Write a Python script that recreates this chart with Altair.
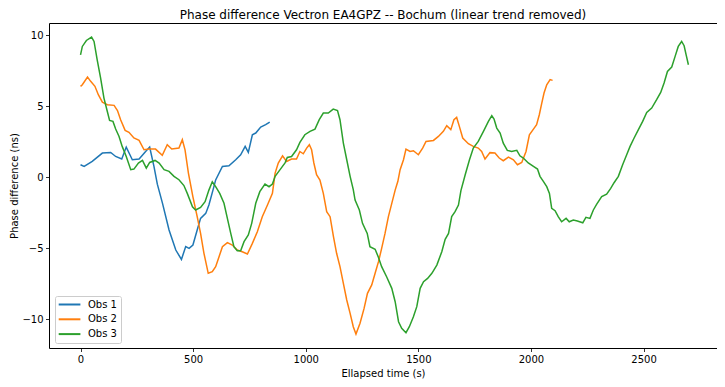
import altair as alt
import pandas as pd

# ---- data ----
obs1_t = [0, 16, 52, 97, 134, 156, 183, 203, 230, 260, 289, 307, 326, 341, 364, 393, 423,
          448, 467, 482, 499, 518, 533, 556, 570, 588, 600, 630, 659, 689, 711, 731, 745,
          763, 778, 800, 822, 840]
obs1_v = [0.87, 0.75, 1.1, 1.69, 1.73, 1.45, 1.27, 2.11, 1.22, 1.27, 1.8, 2.11, 0.75, -0.5,
          -1.85, -3.73, -5.14, -5.8, -4.9, -5.02, -4.79, -3.73, -2.91, -2.56, -1.97, -0.92,
          -0.2, 0.75, 0.8, 1.22, 1.57, 2.16, 1.74, 2.98, 3.1, 3.52, 3.69, 3.87]

obs2_t = [0, 8, 31, 45, 64, 79, 97, 119, 149, 164, 178, 198, 215, 237, 260, 282, 304, 333,
          363, 385, 405, 437, 452, 464, 479, 499, 518, 533, 548, 567, 585, 600, 615, 630,
          652, 674, 696, 718, 741, 763, 785, 807, 830, 852, 864, 878, 897, 915, 937, 959,
          974, 989, 1004, 1016, 1026, 1036, 1048, 1063, 1078, 1093, 1108, 1123, 1137, 1152,
          1167, 1182, 1197, 1211, 1223, 1241, 1259, 1274, 1293, 1308, 1323, 1337, 1352,
          1367, 1382, 1397, 1409, 1419, 1434, 1445, 1463, 1478, 1500, 1519, 1534, 1567,
          1589, 1611, 1626, 1644, 1658, 1670, 1682, 1697, 1722, 1744, 1766, 1781, 1796,
          1818, 1840, 1859, 1877, 1900, 1922, 1940, 1959, 1978, 1993, 2011, 2025, 2037,
          2048, 2058, 2070, 2085, 2096]
obs2_v = [6.39, 6.5, 7.04, 6.74, 6.39, 5.8, 5.28, 5.09, 5.05, 4.69, 4.04, 3.29, 3.15, 2.75,
          2.58, 1.92, 1.97, 1.97, 1.53, 2.28, 1.97, 2.04, 2.63, 1.92, 0.28, -1.39, -2.79,
          -3.97, -5.37, -6.78, -6.67, -6.31, -5.61, -4.91, -4.62, -4.79, -5.14, -5.26,
          -5.42, -4.67, -3.85, -2.79, -1.97, -1.15, 0.28, 0.99, 1.5, 1.1, 1.27, 1.27, 1.8,
          1.64, 2.04, 2.28, 1.92, 0.99, 0.16, -0.21, -1.15, -2.44, -2.79, -4.2, -5.37,
          -6.31, -7.49, -8.66, -9.6, -10.54, -11.06, -10.3, -9.25, -8.19, -7.6, -6.78,
          -5.96, -5.02, -3.97, -2.79, -1.85, -0.92, -0.3, 0.52, 1.22, 1.97, 1.8, 1.85,
          1.57, 2.04, 2.51, 2.58, 2.86, 3.22, 3.62, 3.34, 4.04, 4.2, 3.57, 2.75, 2.35,
          2.16, 2.04, 1.8, 1.27, 1.72, 1.69, 1.34, 1.15, 1.41, 1.22, 0.87, 1.03, 1.8,
          2.98, 3.38, 3.69, 4.39, 5.21, 5.92, 6.5, 6.86, 6.81]

obs3_t = [0, 8, 26, 49, 60, 74, 89, 104, 119, 129, 144, 156, 171, 185, 203, 223, 237, 257,
          275, 292, 307, 331, 349, 371, 393, 415, 437, 459, 474, 497, 511, 533, 553, 570,
          585, 600, 618, 637, 652, 667, 681, 696, 711, 726, 745, 760, 778, 796, 819, 837,
          852, 864, 886, 908, 918, 937, 959, 974, 996, 1019, 1041, 1060, 1078, 1100, 1122,
          1141, 1152, 1167, 1182, 1197, 1211, 1219, 1238, 1252, 1273, 1285, 1308, 1323,
          1337, 1359, 1382, 1397, 1412, 1426, 1445, 1460, 1478, 1493, 1508, 1523, 1541,
          1560, 1582, 1604, 1619, 1634, 1648, 1663, 1678, 1689, 1708, 1727, 1744, 1766,
          1789, 1811, 1826, 1836, 1848, 1863, 1877, 1895, 1914, 1937, 1951, 1966, 1988,
          2011, 2029, 2040, 2055, 2070, 2082, 2092, 2107, 2121, 2136, 2156, 2170, 2188,
          2206, 2230, 2244, 2262, 2277, 2292, 2314, 2336, 2354, 2369, 2388, 2407, 2425,
          2440, 2458, 2477, 2496, 2514, 2536, 2558, 2576, 2591, 2606, 2625, 2640, 2654,
          2669, 2680, 2689, 2699]
obs3_v = [8.61, 9.2, 9.62, 9.86, 9.55, 8.26, 6.98, 5.56, 4.62, 3.99, 3.92, 3.38, 2.86,
          2.16, 1.45, 0.52, 0.56, 0.99, 1.17, 0.63, 1.03, 1.17, 0.99, 0.52, 0.4, 0.05,
          -0.19, -0.6, -1.15, -2.09, -2.32, -2.14, -1.74, -0.92, -0.33, -0.68, -1.15,
          -1.85, -2.91, -3.97, -4.91, -5.19, -5.19, -4.55, -4.08, -3.26, -1.85, -1.03,
          -0.49, -0.68, -0.49, 0.05, 0.52, 0.99, 1.38, 1.45, 1.92, 2.44, 2.98, 3.22, 3.38,
          4.04, 4.51, 4.51, 4.79, 4.69, 4.04, 2.39, 1.22, 0.05, -0.89, -1.62, -2.32,
          -3.26, -3.97, -4.91, -5.09, -5.66, -6.31, -7.02, -7.84, -8.78, -10.19, -10.66,
          -10.96, -10.54, -9.84, -9.13, -7.84, -7.37, -7.14, -6.78, -6.2, -5.26, -4.39,
          -3.97, -2.79, -2.44, -1.97, -0.95, 0.16, 1.22, 2.04, 2.51, 3.22, 3.92, 4.32,
          4.08, 3.45, 3.1, 2.39, 1.88, 1.8, 1.88, 1.5, 1.34, 0.99, 0.75, 0.56, 0.05, -0.3,
          -0.68, -1.15, -2.21, -2.37, -2.79, -3.15, -2.91, -3.15, -3.03, -3.1, -3.22,
          -2.84, -2.91, -2.32, -1.9, -1.38, -1.2, -0.8, -0.4, 0.05, 0.87, 1.57, 2.16, 2.75,
          3.34, 3.92, 4.55, 4.86, 5.45, 5.96, 6.62, 7.44, 7.75, 8.5, 9.2, 9.55, 9.25, 8.61,
          7.91]

series_names = ["Obs 1", "Obs 2", "Obs 3"]
series_colors = ["#1f77b4", "#ff7f0e", "#2ca02c"]
x_ticks = [0, 500, 1000, 1500, 2000, 2500]
y_ticks = [-10, -5, 0, 5, 10]

frames = []
for name, t, v in zip(series_names, [obs1_t, obs2_t, obs3_t], [obs1_v, obs2_v, obs3_v]):
    frames.append(pd.DataFrame({"t": t, "v": v, "series": name, "order": range(len(t))}))
df = pd.concat(frames, ignore_index=True)

FONT = "DejaVu Sans"

chart = alt.Chart(df).mark_line(strokeWidth=1.5, clip=True).encode(
    x=alt.X("t:Q", title="Ellapsed time (s)",
            scale=alt.Scale(domain=[-140, 2826], nice=False, zero=False),
            axis=alt.Axis(values=x_ticks, format="d", grid=False, titlePadding=4)),
    y=alt.Y("v:Q", title="Phase difference (ns)",
            scale=alt.Scale(domain=[-12.04, 10.85], nice=False, zero=False),
            axis=alt.Axis(values=y_ticks, format="d", grid=False, titlePadding=2)),
    color=alt.Color("series:N",
                    scale=alt.Scale(domain=series_names, range=series_colors),
                    legend=alt.Legend(title=None, orient="none", legendX=6, legendY=273,
                                      symbolType="M-1.2,0H4.225", symbolSize=64,
                                      symbolStrokeWidth=2, labelOffset=19.5,
                                      padding=3.5, rowPadding=4.8,
                                      strokeColor="#cccccc", fillColor="rgba(255,255,255,0.8)",
                                      cornerRadius=2, labelFont=FONT, labelFontSize=10,
                                      labelColor="black")),
    order="order:Q",
).properties(
    width=668, height=325,
    title=alt.TitleParams("Phase difference Vectron EA4GPZ -- Bochum (linear trend removed)",
                          font=FONT, fontSize=12, fontWeight="normal", color="black",
                          anchor="middle", offset=1.5),
    autosize=alt.AutoSizeParams(type="none"),
    padding={"left": 41, "top": 15, "right": 0, "bottom": 31},
).configure_view(
    stroke="black", strokeWidth=1
).configure_axis(
    domain=False, ticks=True, tickColor="black", tickSize=3.5, tickWidth=0.8,
    labelFont=FONT, labelFontSize=10, labelColor="black", labelPadding=2.5,
    titleFont=FONT, titleFontSize=10, titleFontWeight="normal", titleColor="black",
)

chart.save("out.html", embed_options={"renderer": "svg", "actions": False})
